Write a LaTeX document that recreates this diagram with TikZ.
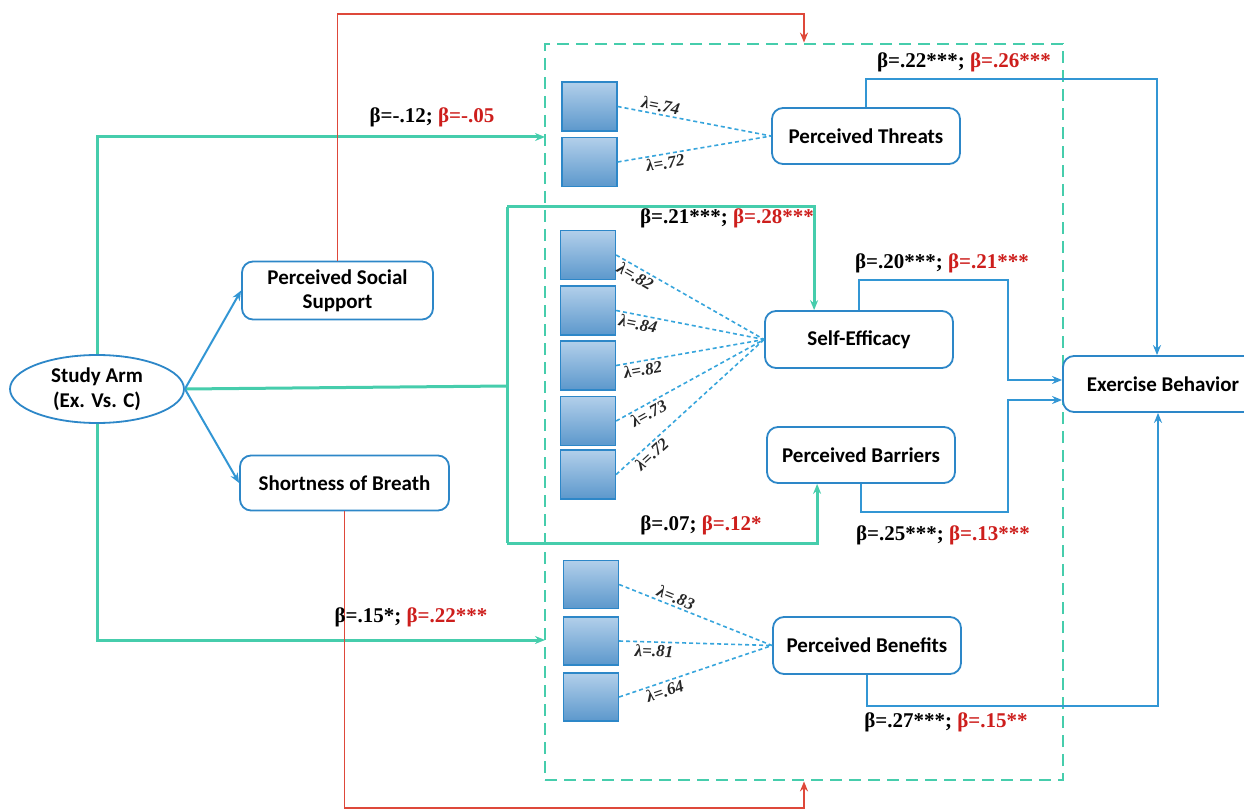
\documentclass[tikz,border=0pt]{standalone}
\usepackage{fontspec}
\setmainfont{Liberation Serif}
\setsansfont{Carlito}
\usetikzlibrary{arrows.meta,shapes.geometric}
\definecolor{armgreen}{RGB}{70,205,172}
\definecolor{pathblue}{RGB}{50,150,212}
\definecolor{boxblue}{RGB}{45,135,200}
\definecolor{linkred}{RGB}{222,72,58}
\definecolor{betared}{RGB}{205,30,28}
\definecolor{indtop}{RGB}{178,207,234}
\definecolor{indbot}{RGB}{92,152,204}
\definecolor{loadblue}{RGB}{55,165,220}
\def\bpair#1#2{β=#1; \textcolor{betared}{β=#2}}

\begin{document}
\begin{tikzpicture}[x=1pt, y=-1pt,
	latent/.style={draw=boxblue, line width=1.8pt, rounded corners=11pt, fill=white, minimum width=188pt, minimum height=56pt, align=center, font=\sffamily\bfseries\fontsize{21}{24}\selectfont},
	ind/.style={draw=boxblue, line width=1.3pt, top color=indtop, bottom color=indbot, minimum width=55pt, minimum height=49pt, inner sep=0pt},
	panel/.style={draw=armgreen, line width=2.8pt, dash pattern=on 12pt off 7pt, minimum width=518pt, minimum height=736pt, inner sep=0pt},
	loading/.style={loadblue, line width=1.6pt, dash pattern=on 4pt off 3pt},
	lam/.style={sloped, inner sep=2pt, text=black!85, font=\bfseries\itshape\fontsize{17}{17}\selectfont},
	beta/.style={inner sep=0pt, font=\bfseries\fontsize{21}{21}\selectfont},
	greenpath/.style={armgreen, line width=3pt},
	bluepath/.style={pathblue, line width=2pt},
	redpath/.style={linkred, line width=1.8pt},
	pointed/.style={-{Stealth[length=10pt,width=8pt]}}]
			%%%%% START %%%%%
			
			\useasboundingbox (0, 0) rectangle (1244, 810);
			
			\node[panel] (frame) at (804, 412) {};
			
			\node[ellipse, draw=boxblue, line width=1.8pt, minimum width=174pt, minimum height=68pt, inner sep=0pt, align=center, font=\sffamily\bfseries\fontsize{21}{25}\selectfont] (arm) at (97, 389) {Study Arm\\(Ex. Vs. C)};
			\node[latent, minimum width=191pt, minimum height=58pt] (pss) at (337.5, 290.5) {Perceived Social\\Support};
			\node[latent, minimum width=209pt, minimum height=55pt] (sob) at (344.5, 483) {Shortness of Breath};
			
			\node[latent] (threat) at (866, 136) {Perceived Threats};
			\node[latent, minimum height=57pt] (se) at (859, 339.5) {Self-Efficacy};
			\node[latent] (pb) at (861, 455) {Perceived Barriers};
			\node[latent, minimum height=57pt] (ben) at (867, 645.5) {Perceived Benefits};
			\node[latent, minimum width=200pt] (eb) at (1163, 384) {Exercise Behavior};
			
			\node[ind] (t1) at (589.5, 106.5) {};
			\node[ind] (t2) at (589.5, 162) {};
			
			\node[ind] (s1) at (588, 255) {};
			\node[ind] (s2) at (588, 310.5) {};
			\node[ind] (s3) at (588, 365.5) {};
			\node[ind] (s4) at (588, 421) {};
			\node[ind] (s5) at (588, 474.5) {};
			
			\node[ind, minimum height=48pt] (b1) at (591, 584.5) {};
			\node[ind, minimum height=48pt] (b2) at (591, 641) {};
			\node[ind, minimum height=48pt] (b3) at (591, 697) {};
			
			% loadings
			\draw[loading] (t1.east) -- node[lam, pos=0.27, above] {λ=.74} (threat.west);
			\draw[loading] (t2.east) -- node[lam, pos=0.3, below] {λ=.72} (threat.west);
			
			\draw[loading] (s1.east) -- node[lam, pos=0.16, below] {λ=.82} (se.west);
			\draw[loading] (s2.east) -- node[lam, pos=0.16, below] {λ=.84} (se.west);
			\draw[loading] (s3.east) -- node[lam, pos=0.17, below] {λ=.82} (se.west);
			\draw[loading] (s4.east) -- node[lam, pos=0.19, below] {λ=.73} (se.west);
			\draw[loading] (s5.east) -- node[lam, pos=0.2, below] {λ=.72} (se.west);
			
			\draw[loading] (b1.east) -- node[lam, pos=0.35, above] {λ=.83} (ben.west);
			\draw[loading] (b2.east) -- node[lam, pos=0.23, below] {λ=.81} (ben.west);
			\draw[loading] (b3.east) -- node[lam, pos=0.28, below] {λ=.64} (ben.west);
			
			% study arm paths
			\coordinate (gtop) at (545, 137);
			\coordinate (gbot) at (545, 640);
			\coordinate (gmid) at (507, 386);
			\coordinate (gup) at (507, 207);
			\coordinate (gdn) at (507, 543);
			
			\draw[greenpath, pointed] (arm.north) |- (gtop);
			\draw[greenpath, pointed] (arm.south) |- (gbot);
			\draw[greenpath] (arm.east) -- (gmid);
			\draw[greenpath] (gup) -- (gdn);
			\draw[greenpath, pointed] (gup) -| ([xshift=50pt]se.north west);
			\draw[greenpath, pointed] (gdn) -| ([xshift=51pt]pb.south west);
			
			\draw[bluepath, pointed] (arm.east) -- (pss.west);
			\draw[bluepath, pointed] (arm.east) -- (sob.west);
			
			% moderators
			\draw[redpath, pointed] (pss.north) |- (600, 14) -| (frame.north);
			\draw[redpath, pointed] (sob.south) |- (600, 808) -| (frame.south);
			
			% outcome paths
			\draw[bluepath, pointed] (threat.north) |- (1000, 79) -| ([xshift=-6pt]eb.north);
			\draw[bluepath, pointed] (se.north) |- (1008, 280) |- ([yshift=4pt]eb.west);
			\draw[bluepath, pointed] (pb.south) |- (1008, 512) |- ([yshift=-16pt]eb.west);
			\draw[bluepath, pointed] (ben.south) |- (1000, 706) -| ([xshift=-5pt]eb.south);
			
			\node[beta] (bArmThreat) at (432, 117) {\bpair{-.12}{-.05}};
			\node[beta] (bArmBen) at (411, 617) {\bpair{.15*}{.22***}};
			\node[beta] (bArmSe) at (727, 218) {\bpair{.21***}{.28***}};
			\node[beta] (bArmPb) at (701, 525) {\bpair{.07}{.12*}};
			\node[beta] (bThreat) at (964, 62) {\bpair{.22***}{.26***}};
			\node[beta] (bSe) at (942, 263) {\bpair{.20***}{.21***}};
			\node[beta] (bPb) at (943, 535) {\bpair{.25***}{.13***}};
			\node[beta] (bBen) at (946, 722) {\bpair{.27***}{.15**}};
			
			%%%%% END %%%%%
\end{tikzpicture}
\end{document}
